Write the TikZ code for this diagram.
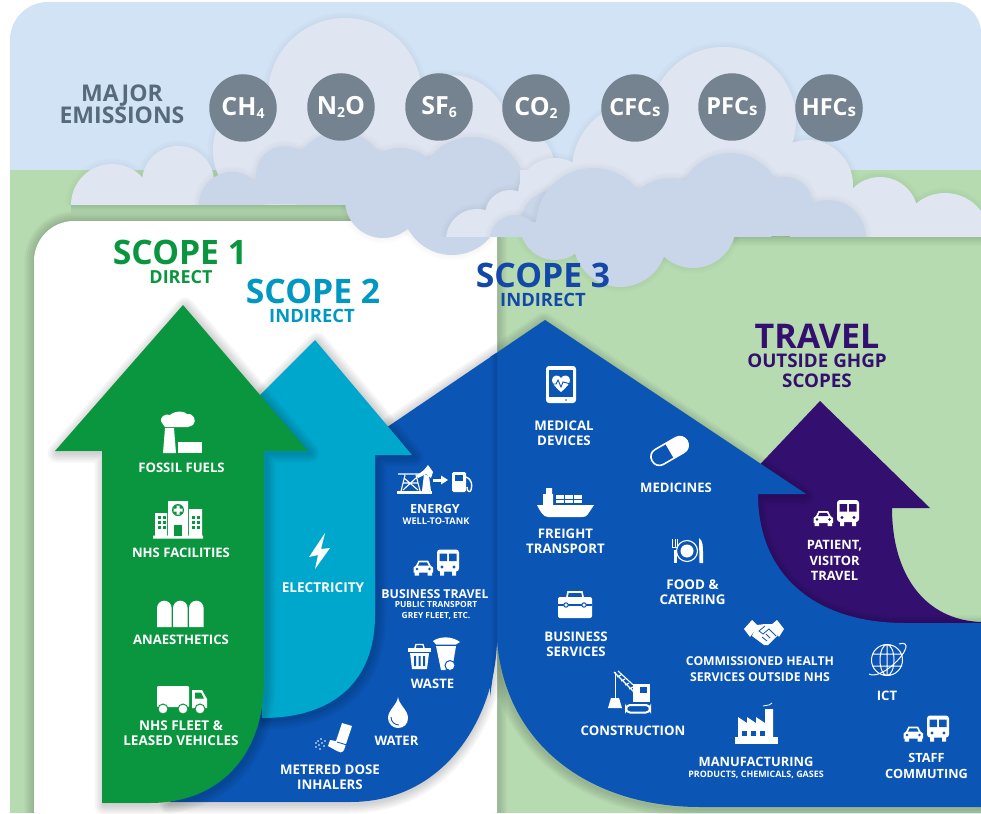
\documentclass[tikz,border=0pt]{standalone}
\usepackage{fontspec}
\setmainfont{Open Sans}
\newcommand\labfont{\bfseries}
\newcommand\headfont{\bfseries}
\definecolor{sky}{HTML}{D2E3F5}
\definecolor{grass}{HTML}{B7DBB1}
\definecolor{grassd}{HTML}{97BC94}
\definecolor{cloudl}{HTML}{E0E6F1}
\definecolor{cloudd}{HTML}{C9D5E8}
\definecolor{gasgrey}{HTML}{74838F}
\definecolor{emtext}{HTML}{566A7C}
\definecolor{sone}{HTML}{0A963F}
\definecolor{stwo}{HTML}{00A7CC}
\definecolor{sthree}{HTML}{0B55B5}
\definecolor{sthreed}{HTML}{08469A}
\definecolor{sthreet}{HTML}{1348A9}
\definecolor{stwot}{HTML}{0098C2}
\definecolor{trav}{HTML}{33106F}
\usetikzlibrary{calc}
\tikzset{
  lab/.style={text=white,align=center,inner sep=0pt,font=\labfont\fontsize{#1}{15.3}\selectfont},
  lab/.default=13.1,
  sublab/.style={text=white,align=center,inner sep=0pt,font=\labfont\fontsize{#1}{10.2}\selectfont},
  gas/.style={circle,fill=gasgrey,minimum size=67.5pt,inner sep=0pt,text=white,font=\fontsize{#1}{24}\selectfont},
  gas/.default=25,
  head/.style n args={2}{text=#1,align=center,inner sep=0pt,font=\headfont\fontsize{#2}{#2}\selectfont},
  ic/.style={fill=white,draw=none},
  icl/.style={draw=white,fill=none,line width=1.4pt}
}
\def\greenpath{(183,305) -- (308,451) -- (264,451) -- (264,680) .. controls (264,760) and (215,803) .. (150,803) -- (102,803) -- (102,451) -- (55,451) -- cycle}
\def\tealpath{(315,340) -- (412,455) -- (375,455) -- (375,615) .. controls (375,680) and (335,718) .. (262,718) -- (255,400) -- cycle}
\def\bluepath{(545,320) -- (806,494) -- (758,494) .. controls (758,575) and (815,623) .. (905,623) -- (981,623) -- (981,807) -- (700,807) .. controls (590,807) and (505,745) .. (497,640) .. controls (496,710) and (450,802) .. (350,802) -- (170,802) -- (250,600) -- (380,432) -- cycle}
\def\purplepath{(820,401) -- (930,508) -- (892,508) .. controls (892,575) and (925,620) .. (981,622) -- (981,630) -- (800,630) -- (750,560) -- (750,475) -- cycle}
\newcommand\softshadow[3]{%
  \foreach \w in {3,7,11,15,19}{\path[shift={(#1,#2)},draw=black,draw opacity=.035,line width=\w pt,line join=round,fill=none] #3;}}
\newcommand\cloudset[2]{% colour, list
  \foreach \cx/\cy/\cr in {#2}{\foreach \w in {3,7,11}{\path[draw=black,draw opacity=.012,line width=\w pt] (\cx,\cy) circle (\cr);}}
  \foreach \cx/\cy/\cr in {#2}{\fill[#1] (\cx,\cy) circle (\cr);}}
\newcommand\cartrain[3]{% x,y bottom-left of car, background colour
 \begin{scope}[shift={(#1,#2)}]
  \fill[white] (0.5,-3) -- (0.5,-8) -- (3,-10) -- (5.5,-15) -- (15,-15) -- (17.5,-10) -- (20,-8) -- (20,-3) -- cycle;
  \fill[white] (1.5,-3.5) rectangle (6,0) (14.5,-3.5) rectangle (19,0);
  \fill[#3] (6.5,-13.2) -- (14,-13.2) -- (15.6,-9.8) -- (5,-9.8) -- cycle;
  \fill[#3] (4,-6.5) circle (1.3) (16.5,-6.5) circle (1.3);
  \fill[white,rounded corners=3pt] (24,-26) rectangle (46,-4);
  \fill[white] (27,-5) rectangle (31,0) (39,-5) rectangle (43,0);
  \fill[#3] (26.5,-22) rectangle (34,-14.5) (36,-22) rectangle (43.5,-14.5);
  \fill[#3] (29,-8.5) circle (1.6) (41,-8.5) circle (1.6);
 \end{scope}}
\begin{document}
\begin{tikzpicture}[x=1pt,y=-1pt,line cap=butt]
\useasboundingbox (0,0) rectangle (981,813);
\clip (0,0) rectangle (981,813);
\fill[white] (0,0) rectangle (981,813);
% sky and ground
\fill[sky] (10,170) -- (10,40) arc[start angle=180,end angle=90,x radius=38,y radius=-38] -- (950,2) arc[start angle=90,end angle=0,x radius=31,y radius=-31] -- (981,175) -- (981,170) -- cycle;
\fill[grass] (10,170) rectangle (981,813);
% ground shadows
\shade[top color=grassd,bottom color=grass] (71,204) rectangle (360,214);
\shade[top color=grassd,bottom color=grass] (700,236) rectangle (981,246);
% white panel
\softshadow{0}{0}{(34,813) -- (34,261) arc[start angle=180,end angle=90,x radius=40,y radius=-40] -- (497,221) -- (497,813)}
\fill[white] (34,813) -- (34,261) arc[start angle=180,end angle=90,x radius=40,y radius=-40] -- (497,221) -- (497,813) -- cycle;
% left cloud
\begin{scope}
 \clip (0,0) rectangle (981,204);
 \cloudset{cloudl}{345/95/77,275/150/62,450/135/60,510/170/45,112/205/41,178/182/36}
 \fill[cloudl] (225,170) rectangle (520,204);
\end{scope}
\cloudset{cloudd}{383/200/38,452/205/50}
\begin{scope}
 \clip (0,0) rectangle (981,204);
 \cloudset{cloudd}{232/205/33,285/175/29,340/180/48,400/190/42,472/190/53}
 \fill[cloudd] (230,185) rectangle (500,204);
\end{scope}
% right cloud
\begin{scope}
 \clip (0,0) rectangle (981,236);
 \cloudset{cloudl}{723/120/73,640/170/68,808/185/45,555/195/37,510/215/25,477/240/31,880/215/38,945/238/45}
 \fill[cloudl] (495,215) rectangle (960,236);
 \fill[cloudl] (520,170) rectangle (850,215);
\end{scope}
\cloudset{cloudd}{555/225/35,620/240/47,693/225/43}
\begin{scope}
 \clip (0,0) rectangle (981,236);
 \cloudset{cloudd}{515/240/25,593/225/57,670/225/47,730/205/52,785/205/28,828/238/38}
 \fill[cloudd] (530,222) rectangle (845,236);
\end{scope}
% gases
\node[gas] (ch4) at (243,108) {\bfseries CH\raisebox{-3pt}{\fontsize{14}{14}\selectfont 4}};
\node[gas] (n2o) at (341,107) {\bfseries N\raisebox{-3pt}{\fontsize{14}{14}\selectfont 2}O};
\node[gas] (sf6) at (439,107) {\bfseries SF\raisebox{-3pt}{\fontsize{14}{14}\selectfont 6}};
\node[gas] (co2) at (536,108) {\bfseries CO\raisebox{-3pt}{\fontsize{14}{14}\selectfont 2}};
\node[gas=23.5] (cfc) at (635,108) {\bfseries CFC\raisebox{-1pt}{\fontsize{17}{17}\selectfont s}};
\node[gas=23.5] (pfc) at (732,107) {\bfseries PFC\raisebox{-1pt}{\fontsize{17}{17}\selectfont s}};
\node[gas=23.5] (hfc) at (829,108) {\bfseries HFC\raisebox{-1pt}{\fontsize{17}{17}\selectfont s}};
\node[text=emtext,align=center,inner sep=0pt,font=\labfont\fontsize{23}{22.5}\selectfont] (major) at (122,104.5) {MAJOR\\EMISSIONS};
% arrows
\fill[trav] \purplepath;
\softshadow{-1}{2}{\bluepath}
\fill[sthree] \bluepath;
\shade[left color=sthree,right color=sthreed] (490,357) -- (497,352.6) -- (497,640) -- (495,660) -- (490,697) -- cycle;
\softshadow{2}{2}{\tealpath}
\fill[stwo] \tealpath;
\softshadow{2}{2}{\greenpath}
\fill[sone] \greenpath;
% ---------- icons: scope 1
\fill[white] (162,423) .. controls (158,417) and (166,413) .. (170,415) .. controls (176,410) and (184,411) .. (187,414) .. controls (194,413) and (197,421) .. (193,425) -- (188,427) -- (165,427) -- cycle;
\fill[white] (165,428) -- (174,428) -- (176,453) -- (163,453) -- cycle;
\fill[white] (178,442) rectangle (202,453);
\fill[white] (155,513) rectangle (167,536) (189,509) rectangle (202,536) (168,501) rectangle (188,536) (153,535.5) rectangle (203,538.5);
\fill[sone] (178,510) circle (6);
\fill[white] (176.5,505.5) rectangle (179.5,514.5) (173.5,508.5) rectangle (182.5,511.5);
\foreach \xx in {158,163,192,197}\foreach \yy in {516,521,526}{\fill[sone] (\xx,\yy) rectangle +(3,3);}
\fill[sone] (174,525) rectangle (182,536);
\foreach \xx in {157,173,189}{\fill[white] (\xx,627) -- (\xx,608) arc[start angle=180,end angle=0,x radius=7.3,y radius=-7.3] -- ++(0,19) -- cycle;}
\fill[white,rounded corners=1pt] (157,686) rectangle (189,707);
\fill[white] (192,690) -- (202,690) -- (207,699) -- (207,708) -- (192,708) -- cycle;
\fill[sone] (195,692.5) -- (201,692.5) -- (204,698.5) -- (195,698.5) -- cycle;
\foreach \xx in {163,183,200}{\fill[white,draw=sone,line width=1pt] (\xx,709) circle (5);}
% scope 2
\fill[white] (325,533) -- (309,557) -- (318,555) -- (315,569) -- (330,548) -- (321,549) -- cycle;
% energy
\draw[icl,line width=1.1pt] (401,491) -- (405,475) (416,475) -- (420,491) (398,474) -- (422,474) (403,483) -- (418,483) (404,478) -- (418,490) (416,478) -- (403,490);
\fill[white] (397,490.5) rectangle (432,493.5);
\fill[white] (416,476) -- (424,470) -- (428,465) -- (433,472) -- (431,478) -- (426,474) -- (418,478) -- cycle;
\fill[white] (424,474) -- (429,476) -- (431,491) -- (422,491) -- cycle;
\fill[white] (433,478.5) rectangle (442,481.5);
\fill[white] (441,475.5) -- (448,480) -- (441,484.5) -- cycle;
\fill[white,rounded corners=1.5pt] (452,472) rectangle (466,492);
\fill[sthree] (455,475) rectangle (463,481);
\draw[icl] (466,477) .. controls (473,480) and (472,486) .. (471,490) .. controls (470,493) and (467,492) .. (467,487);
\cartrain{413}{575.5}{sthree}
% bins
\fill[white] (408,648) rectangle (431,651.5);
\draw[icl] (415,648) -- (416,644.5) -- (423,644.5) -- (424,648);
\fill[white] (410,653) -- (429,653) -- (427,669) -- (412,669) -- cycle;
\fill[sthree] (414,656) rectangle (416,666) (418.5,656) rectangle (420.5,666) (423,656) rectangle (425,666);
\fill[white] (433,641) .. controls (440,636) and (452,636) .. (460,642) -- (456,644.5) -- (436,644.5) -- cycle;
\fill[white] (436,646) -- (456,646) -- (453,664) -- (445,670) -- (441,670) -- cycle;
\fill[white,draw=sthree,line width=1pt] (450,665.5) circle (5);
% water
\fill[white] (398,697) .. controls (397,705) and (388,710) .. (388,718) .. controls (388,724) and (393,728) .. (398,728) .. controls (404,728) and (408,724) .. (408,718) .. controls (408,710) and (399,705) .. (398,697) -- cycle;
\draw[sthree,line width=0.9pt] (391,717) .. controls (391,722) and (395,725) .. (399,725);
% inhaler
\fill[white] (342,723) -- (352,726) -- (344,750) .. controls (342,753) and (339,753) .. (337,751) -- (328,746) -- (330,740) -- (336,741) -- cycle;
\draw[sthree,line width=0.8pt] (337,742) -- (347,745);
\foreach \xx/\yy in {325/741,322/743,319/745,316/747,321/739,318/741,324/746,320/749,316/743}{\fill[white] (\xx,\yy) circle (0.9);}
% ---------- icons: scope 3
\fill[white,rounded corners=3pt] (546,366) rectangle (576,403);
\fill[sthree] (549,370) rectangle (573,397);
\fill[sthree] (566,400) circle (0.8);
\fill[white] (561,392) .. controls (555,387) and (552,383) .. (552,380) .. controls (552,375) and (559,374) .. (561,378) .. controls (563,374) and (570,375) .. (570,380) .. controls (570,383) and (567,387) .. (561,392) -- cycle;
\draw[sthree,line width=0.9pt] (551,384) -- (556,384) -- (558,380) -- (561,387) -- (563,382) -- (571,384);
% pills
\begin{scope}[shift={(669.5,451)},rotate=30]
 \draw[white,fill=sthree,line width=1.6pt,rounded corners=8pt] (-20,-8.5) rectangle (20,8.5);
 \fill[white] (0,-8.5) -- (12,-8.5) arc[start angle=90,end angle=-90,x radius=9,y radius=-8.5] -- (0,8.5) -- cycle;
\end{scope}
% ship
\fill[white] (537,505) -- (594,505) -- (588,514) .. controls (586,517) and (584,517) .. (582,517) -- (548,517) .. controls (543,517) and (540,511) .. (537,505) -- cycle;
\fill[white] (543,494) rectangle (553,505) (546,488) rectangle (552,494);
\foreach \xx in {556,565,574}{\fill[white] (\xx,495) rectangle +(7.5,3.5); \fill[white] (\xx,499.5) rectangle +(7.5,3.5);}
% plate
\draw[white,line width=1.1pt] (687,551) circle (10.5);
\fill[white] (687,551) circle (6.5);
\fill[white] (673.5,550) rectangle (676.5,563);
\draw[white,line width=1pt] (672.5,539) -- (672.5,547) -- (677.5,547) -- (677.5,539) (675,539) -- (675,547);
\fill[white] (699,538) .. controls (703,540) and (703,548) .. (703,552) -- (703,563) -- (699.5,563) -- cycle;
% toolbox
\fill[white,rounded corners=2pt] (558,597) rectangle (592,618);
\draw[white,line width=1.6pt] (567,597) -- (568,592) -- (582,592) -- (583,597);
\draw[sthree,line width=1.1pt] (558,605) -- (592,605);
\fill[white,draw=sthree,line width=1pt] (566,605) circle (2.2) (584,605) circle (2.2);
% crane
\draw[white,line width=1.1pt] (614,672) -- (640,698) (618,671) -- (641,692) (617,677) -- (621,675) (621,681) -- (625,679) (625,685) -- (629,683) (629,689) -- (633,687) (633,693) -- (637,691);
\draw[white,line width=1pt] (615,672) -- (615,698);
\fill[white] (611,698) -- (619,698) -- (622,708) -- (608,708) -- cycle;
\fill[white] (633,684) rectangle (650,702);
\fill[sthree] (640,686.5) rectangle (647,693);
\draw[white,line width=2pt,rounded corners=4pt] (626,705) rectangle (650,712.5);
% handshake
\fill[white] (744,629) -- (752,620) -- (758,626) -- (750,637) -- cycle;
\fill[white] (784,629) -- (777,620) -- (771,625) -- (779,637) -- cycle;
\fill[white] (757,625) -- (765,624) -- (772,624) -- (778,635) -- (768,645) -- (764,645) -- (752,636) -- cycle;
\draw[sthree,line width=0.8pt] (765,626) -- (759,631) -- (763,634) -- (769,629) -- (776,636) (770,638) -- (766,634) (767,641) -- (762,637);
% globe
\draw[white,line width=1pt] (887,660) circle (15.5) (887,660) ellipse[x radius=7,y radius=15.5] (872,654) -- (902,654) (872,666) -- (902,666) (887,644.5) -- (887,675.5);
\draw[white,line width=1pt] (869,674) .. controls (880,680) and (906,656) .. (906,646) .. controls (906,643) and (902,643) .. (899,644);
% factory
\fill[white] (735,737) rectangle (778,744);
\fill[white] (738,737) -- (738,717) -- (747,723) -- (747,717) -- (756,723) -- (756,717) -- (765,723) -- (765,709) -- (773,709) -- (773,737) -- cycle;
\foreach \xx in {742,751,760}{\fill[sthree] (\xx,731) rectangle +(5,5);}
\draw[white,line width=0.8pt] (763,706) .. controls (766,704) and (768,707) .. (772,703);
\cartrain{903}{741.5}{sthree}
\cartrain{813}{526}{trav}
% ---------- headings
\node[head={sone}{33.7}] (s1) at (180,252.5) {SCOPE 1};
\node[head={sone}{18}] (s1b) at (181,277.5) {DIRECT};
\node[head={stwot}{33.7}] (s2) at (313,291.5) {SCOPE 2};
\node[head={stwot}{18.4}] (s2b) at (312,315.5) {INDIRECT};
\node[head={sthreet}{33.7}] (s3) at (543,275.5) {SCOPE 3};
\node[head={sthreet}{18.4}] (s3b) at (543,299.5) {INDIRECT};
\node[head={trav}{34},text height=24pt,text depth=0pt] (tr) at (817,336.5) {TRAVEL};
\node[text=trav,align=center,inner sep=0pt,font=\headfont\fontsize{18.8}{19.5}\selectfont] (trb) at (817,371) {OUTSIDE GHGP\\SCOPES};
% ---------- labels
\node[lab] (l1) at (181.5,467.5) {FOSSIL FUELS};
\node[lab] (l2) at (181,552.5) {NHS FACILITIES};
\node[lab] (l3) at (181,639.5) {ANAESTHETICS};
\node[lab=13.5] (l4) at (181,733.5) {NHS FLEET \&\\LEASED VEHICLES};
\node[lab=13.6] (l5) at (323,587.5) {ELECTRICITY};
\node[lab=12.6] (l6) at (435,508.5) {ENERGY};
\node[sublab=9.2] (l6b) at (436,521.5) {WELL-TO-TANK};
\node[lab=12.3] (l7) at (435,594.5) {BUSINESS TRAVEL};
\node[sublab=8.4] (l7b) at (436,610.5) {PUBLIC TRANSPORT\\GREY FLEET, ETC.};
\node[lab] (l8) at (432.5,683.5) {WASTE};
\node[lab] (l9) at (396.5,740.5) {WATER};
\node[lab=13.3] (l10) at (330,777) {METERED DOSE\\INHALERS};
\node[lab=13.3] (l11) at (564,433) {MEDICAL\\DEVICES};
\node[lab] (l12) at (676,487.5) {MEDICINES};
\node[lab=13.2] (l13) at (565.5,541.5) {FREIGHT\\TRANSPORT};
\node[lab=13.4] (l14) at (692.5,592) {FOOD \&\\CATERING};
\node[lab=13.2] (l15) at (576,644.5) {BUSINESS\\SERVICES};
\node[lab=12.2] (l16) at (760,669) {COMMISSIONED HEALTH\\SERVICES OUTSIDE NHS};
\node[lab] (l17) at (887,695.5) {ICT};
\node[lab=13.2] (l18) at (633,730.5) {CONSTRUCTION};
\node[lab=12.9] (l19) at (756,761.5) {MANUFACTURING};
\node[sublab=8.9] (l19b) at (756,774.5) {PRODUCTS, CHEMICALS, GASES};
\node[lab=12.7] (l20) at (926.5,766) {STAFF\\COMMUTING};
\node[lab=12.9] (l21) at (834.5,560.5) {PATIENT,\\VISITOR\\TRAVEL};
\end{tikzpicture}
\end{document}
